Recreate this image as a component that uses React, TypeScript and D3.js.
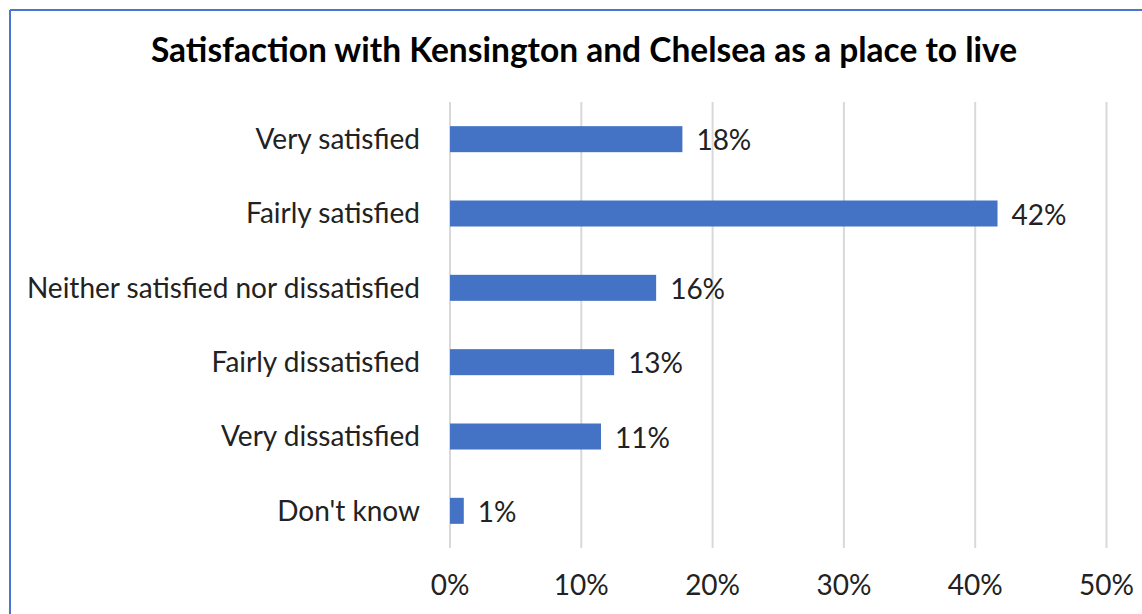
import React from "react";
import * as d3 from "d3";

const categories = [
  "Very satisfied",
  "Fairly satisfied",
  "Neither satisfied nor dissatisfied",
  "Fairly dissatisfied",
  "Very dissatisfied",
  "Don't know",
];
const values = [0.177, 0.417, 0.157, 0.125, 0.115, 0.0105];
const valueLabels = ["18%", "42%", "16%", "13%", "11%", "1%"];
const ticks = [0, 0.1, 0.2, 0.3, 0.4, 0.5];
const title = "Satisfaction with Kensington and Chelsea as a place to live";

const W = 1142;
const H = 614;
const FONT = "Lato, 'Open Sans', sans-serif";

export default function App() {
  const x = d3.scaleLinear().domain([0, 0.5]).range([450, 1106.5]);
  const y = d3
    .scaleBand<string>()
    .domain(categories)
    .range([102, 548])
    .paddingInner(0.65)
    .paddingOuter(0.325);
  const fmt = d3.format(".0%");

  return (
    <div style={{ position: "fixed", left: 0, top: 0 }}>
      <svg width={W} height={H} style={{ display: "block", background: "#fff" }}>
        <rect x={0} y={0} width={W} height={H} fill="#fff" />
        <line x1={10} y1={10} x2={W} y2={10} stroke="#4A76D0" strokeWidth={2} />
        <line x1={10} y1={10} x2={10} y2={H} stroke="#4A76D0" strokeWidth={2} />
        <text
          x={584}
          y={62}
          textAnchor="middle"
          fontFamily={FONT}
          fontWeight="bold"
          fontSize={33.5}
          fill="#000"
        >
          {title}
        </text>
        {ticks.map((t) => (
          <g key={t}>
            <line
              x1={x(t)}
              x2={x(t)}
              y1={102}
              y2={548}
              stroke="#D9D9D9"
              strokeWidth={2}
            />
            <text
              x={x(t)}
              y={595}
              textAnchor="middle"
              fontFamily={FONT}
              fontSize={28}
              fill="#222"
            >
              {fmt(t)}
            </text>
          </g>
        ))}
        {categories.map((c, i) => {
          const yc = (y(c) as number) + y.bandwidth() / 2;
          return (
            <g key={c}>
              <rect
                x={x(0)}
                y={y(c)}
                width={x(values[i]) - x(0)}
                height={y.bandwidth()}
                fill="#4472C4"
              />
              <text
                x={420}
                y={yc}
                dy="0.35em"
                textAnchor="end"
                fontFamily={FONT}
                fontSize={28}
                fill="#222"
              >
                {c}
              </text>
              <text
                x={x(values[i]) + 14}
                y={yc}
                dy="0.4em"
                textAnchor="start"
                fontFamily={FONT}
                fontSize={28}
                fill="#222"
              >
                {valueLabels[i]}
              </text>
            </g>
          );
        })}
      </svg>
    </div>
  );
}
